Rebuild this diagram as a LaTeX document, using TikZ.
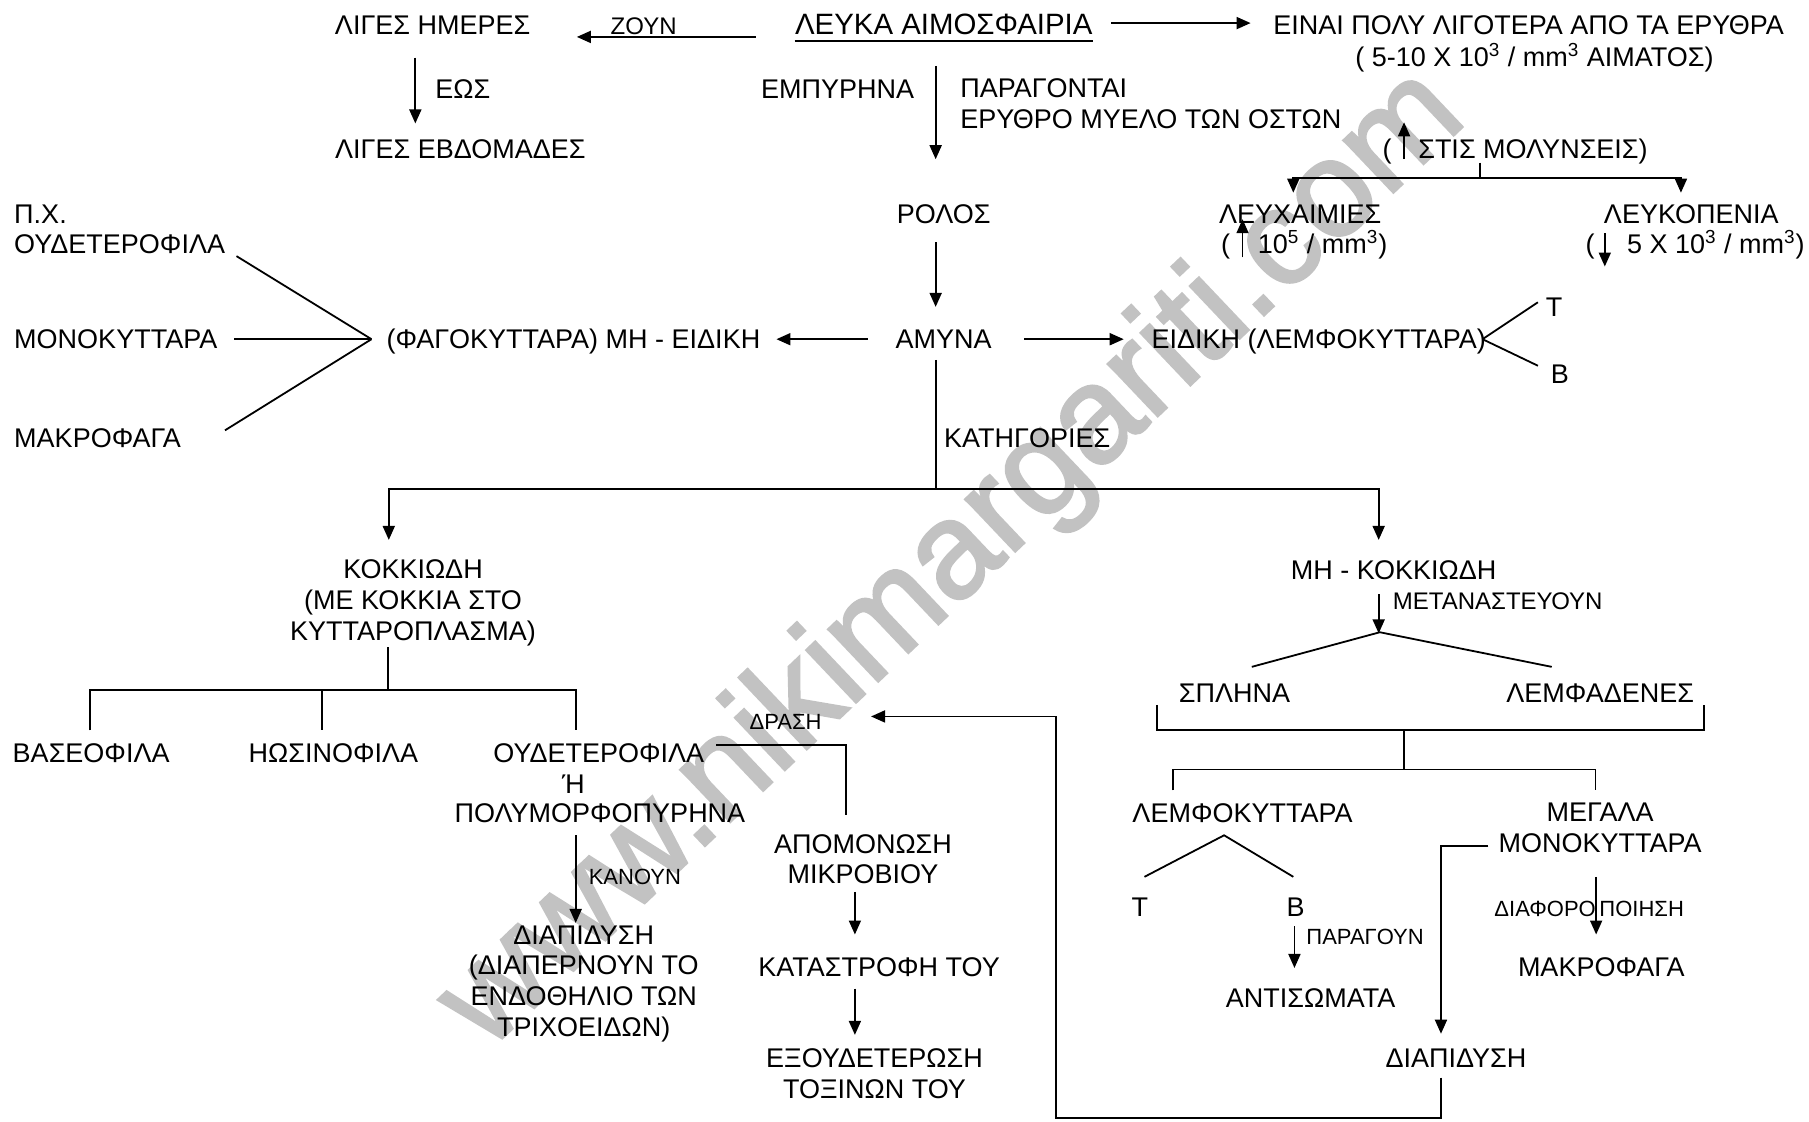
\documentclass[tikz,border=0pt]{standalone}
\usepackage{fontspec}
\setmainfont{Liberation Sans}
\newfontfamily\wmfont[FakeBold=2]{Liberation Sans}
\usetikzlibrary{arrows.meta}
\tikzset{
  tx/.style={inner sep=0pt, anchor=base, font=\fontsize{13.5}{15.3}\selectfont, align=center},
  txl/.style={tx, anchor=base west},
  mtx/.style={tx, anchor=north},
  sm/.style={inner sep=0pt, anchor=base west, font=\fontsize{11}{13}\selectfont},
  smb/.style={sm, font=\fontsize{12}{14}\selectfont},
  ln/.style={line width=0.9pt},
  ar/.style={ln, -{Triangle[length=7pt,width=6pt]}},
  wm/.style={text=black!24, font=\wmfont\fontsize{68}{72}\selectfont, rotate=43.5, inner sep=0pt}
}
\begin{document}
\begin{tikzpicture}[x=0.57685pt,y=-0.57685pt]
\useasboundingbox (0,0) rectangle (1568,972);
\fill[white] (0,0) rectangle (1568,972);
% watermark
\node[wm] (wmark) at (827,486) {www.nikimargariti.com};

% ---------- top row ----------
\node[tx] (ligesim) at (375,30) {ΛΙΓΕΣ ΗΜΕΡΕΣ};
\node[smb] (zoun) at (529,30) {ΖΟΥΝ};
\node[tx, font=\fontsize{14.7}{16}\selectfont] (title) at (818,30) {ΛΕΥΚΑ ΑΙΜΟΣΦΑΙΡΙΑ};
\draw[line width=1pt] ([yshift=-3.4pt]title.base west) -- ([yshift=-3.4pt]title.base east);
\node[tx] (einai) at (1325,30) {ΕΙΝΑΙ ΠΟΛΥ ΛΙΓΟΤΕΡΑ ΑΠΟ ΤΑ ΕΡΥΘΡΑ};
\node[tx] (einaib) at (1330,58) {( 5-10 X 10\textsuperscript{3} / mm\textsuperscript{3} ΑΙΜΑΤΟΣ)};
\draw[ar] (655,32) -- (500,32);
\draw[ar] (963,20) -- (1084,20);

\draw[ar] (360,50) -- (360,107);
\node[txl] (eos) at (377,85) {ΕΩΣ};
\node[tx] (ligesevd) at (399,137) {ΛΙΓΕΣ ΕΒΔΟΜΑΔΕΣ};

\node[tx] (empyr) at (726,85) {ΕΜΠΥΡΗΝΑ};
\draw[ar] (811,57) -- (811,138);
\node[tx, anchor=north west, align=left] (parag) at (832,68) {ΠΑΡΑΓΟΝΤΑΙ\\ΕΡΥΘΡΟ ΜΥΕΛΟ ΤΩΝ ΟΣΤΩΝ};

% infections
\node[txl] (molya) at (1198,137) {(};
\node[txl] (molyb) at (1229,137) {ΣΤΙΣ ΜΟΛΥΝΣΕΙΣ)};
\draw[ar] (1217,138) -- (1217,106);
\draw[ln] (1283,141) -- (1283,154);
\draw[ar] (1283,154) -| (1121,167);
\draw[ar] (1283,154) -| (1457,167);

\node[tx] (leuxaim) at (1127,194) {ΛΕΥΧΑΙΜΙΕΣ};
\node[txl] (leuxa) at (1058,220) {(};
\node[txl] (leuxb) at (1090,220) {10\textsuperscript{5} / mm\textsuperscript{3})};
\draw[ar] (1077,223) -- (1077,190);

\node[tx] (leukop) at (1466,194) {ΛΕΥΚΟΠΕΝΙΑ};
\node[txl] (leukoa) at (1374,220) {(};
\node[txl] (leukob) at (1410,220) {5 X 10\textsuperscript{3} / mm\textsuperscript{3})};
\draw[ar] (1391,202) -- (1391,231);

% ---------- role / defence ----------
\node[tx] (rolos) at (818,194) {ΡΟΛΟΣ};
\draw[ar] (811,210) -- (811,266);
\node[tx] (amyna) at (818,302) {ΑΜΥΝΑ};
\draw[ar] (752,294) -- (673,294);
\node[tx] (fago) at (497,302) {(ΦΑΓΟΚΥΤΤΑΡΑ) ΜΗ - ΕΙΔΙΚΗ};
\coordinate (fagoin) at (322,294);
\node[tx, anchor=north west, align=left] (px) at (12,177) {Π.Χ.\\ΟΥΔΕΤΕΡΟΦΙΛΑ};
\node[txl] (mono1) at (12,302) {ΜΟΝΟΚΥΤΤΑΡΑ};
\node[txl] (makro1) at (12,388) {ΜΑΚΡΟΦΑΓΑ};
\draw[ln] (205,222) -- (fagoin);
\draw[ln] (203,294) -- (fagoin);
\draw[ln] (195,373) -- (fagoin);

\draw[ar] (888,294) -- (974,294);
\node[tx] (eidiki) at (1143,302) {ΕΙΔΙΚΗ (ΛΕΜΦΟΚΥΤΤΑΡΑ)};
\coordinate (eidout) at (1285,294);
\node[tx] (t1) at (1347,274) {Τ};
\node[tx] (b1) at (1352,332) {Β};
\draw[ln] (eidout) -- (1333,262);
\draw[ln] (eidout) -- (1333,317);

\draw[ln] (811,312) -- (811,424);
\node[txl] (kat) at (818,388) {ΚΑΤΗΓΟΡΙΕΣ};
\draw[ar] (811,424) -| (337,468);
\draw[ar] (811,424) -| (1195,468);

% ---------- granulocytes ----------
\node[mtx] (kokk) at (358,485) {ΚΟΚΚΙΩΔΗ\\(ΜΕ ΚΟΚΚΙΑ ΣΤΟ\\ΚΥΤΤΑΡΟΠΛΑΣΜΑ)};
\draw[ln] (336,561) -- (336,598);
\draw[ln] (78,633) -- (78,598) -- (499,598) -- (499,633);
\draw[ln] (279,598) -- (279,633);
\node[tx] (baseo) at (79,661) {ΒΑΣΕΟΦΙΛΑ};
\node[tx] (hosino) at (289,661) {ΗΩΣΙΝΟΦΙΛΑ};
\node[tx] (oudet) at (519,661) {ΟΥΔΕΤΕΡΟΦΙΛΑ};
\node[tx] (or) at (497,688) {Ή};
\node[tx] (polym) at (520,713) {ΠΟΛΥΜΟΡΦΟΠΥΡΗΝΑ};
\node[sm, anchor=base] (drasi) at (681,632) {ΔΡΑΣΗ};
\draw[ln] (621,646) -- (733,646) -- (733,706);
\draw[ar] (499,724) -- (499,800);
\node[sm] (kanoun) at (510,767) {ΚΑΝΟΥΝ};
\node[mtx] (diapid1) at (506,802) {ΔΙΑΠΙΔΥΣΗ\\(ΔΙΑΠΕΡΝΟΥΝ ΤΟ\\ΕΝΔΟΘΗΛΙΟ ΤΩΝ\\ΤΡΙΧΟΕΙΔΩΝ)};
\node[mtx] (apomon) at (748,723) {ΑΠΟΜΟΝΩΣΗ\\ΜΙΚΡΟΒΙΟΥ};
\draw[ar] (741,773) -- (741,810);
\node[tx] (katastr) at (762,846) {ΚΑΤΑΣΤΡΟΦΗ ΤΟΥ};
\draw[ar] (741,857) -- (741,897);
\node[mtx] (exoud) at (758,909) {ΕΞΟΥΔΕΤΕΡΩΣΗ\\ΤΟΞΙΝΩΝ ΤΟΥ};

% ---------- non-granulocytes ----------
\node[tx] (mhkokk) at (1208,502) {ΜΗ - ΚΟΚΚΙΩΔΗ};
\draw[ar] (1195,515) -- (1195,549);
\node[smb] (metan) at (1207,528) {ΜΕΤΑΝΑΣΤΕΥΟΥΝ};
\draw[ln] (1085,578) -- (1196,548) -- (1345,578);
\node[tx] (splhna) at (1070,609) {ΣΠΛΗΝΑ};
\node[tx] (lemfad) at (1387,609) {ΛΕΜΦΑΔΕΝΕΣ};
\draw[ln] (1003,611) -- (1003,633) -- (1477,633) -- (1477,611);
\draw[ln] (1217,633) -- (1217,667);
\draw[ln] (1017,685) -- (1017,667) -- (1383,667) -- (1383,685);
\node[tx] (lemfok) at (1077,713) {ΛΕΜΦΟΚΥΤΤΑΡΑ};
\node[mtx] (megala) at (1387,696) {ΜΕΓΑΛΑ\\ΜΟΝΟΚΥΤΤΑΡΑ};
\draw[ln] (992,760) -- (1061,724) -- (1121,760);
\node[tx] (t2) at (988,794) {Τ};
\node[tx] (b2) at (1123,794) {Β};
\draw[ar] (1122,803) -- (1122,839);
\node[sm] (paragoun) at (1132,819) {ΠΑΡΑΓΟΥΝ};
\node[tx] (antis) at (1136,873) {ΑΝΤΙΣΩΜΑΤΑ};
\node[sm] (diafa) at (1295,794) {ΔΙΑΦΟΡΟ};
\node[sm] (diafb) at (1386,794) {ΠΟΙΗΣΗ};
\draw[ar] (1383.5,760) -- (1383.5,810);
\node[tx] (makro2) at (1388,846) {ΜΑΚΡΟΦΑΓΑ};
\draw[ar] (1290,733) -- (1249,733) -- (1249,896);
\node[tx] (diapid2) at (1262,925) {ΔΙΑΠΙΔΥΣΗ};
\draw[ar] (1249,934) -- (1249,969) -- (915,969) -- (915,621) -- (755,621);
\end{tikzpicture}
\end{document}
